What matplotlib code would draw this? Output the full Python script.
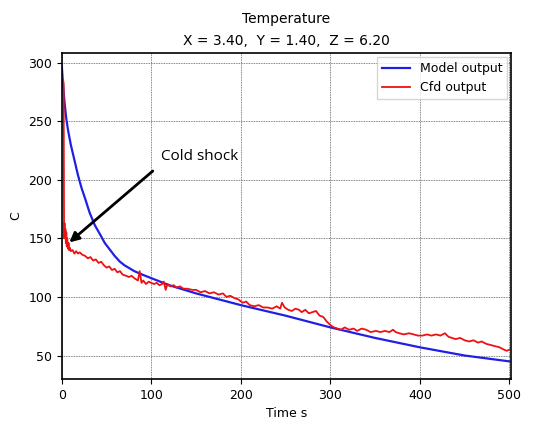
import matplotlib
matplotlib.use("Agg")
import matplotlib.pyplot as plt

# Model output (smooth decay)
model_t = [0, 1, 2, 3, 5, 7, 10, 14, 18, 22, 26, 31, 37, 43, 48, 54, 59, 65, 70, 81,
           90, 100, 120, 150, 175, 200, 225, 250, 275, 300, 325, 350, 375, 400,
           425, 450, 475, 500]
model_temp = [297, 285, 275, 266, 252, 242, 230, 217, 204, 193, 184, 172, 161, 153,
              146, 140, 135, 130, 127, 122, 119, 116, 110, 103, 98, 93, 88.5, 84,
              79, 74, 69.5, 65, 61, 57, 53.5, 50, 47.5, 45]

# Cfd output (noisy)
cfd_t = [1.5, 2, 2.5, 3, 3.5, 4, 4.5, 5, 5.5, 6, 6.5, 7, 7.5, 8, 9, 10, 12, 14, 16, 18,
         20, 23, 26, 29, 32, 35, 38, 41, 44, 47, 50, 53, 56, 59, 62, 65, 68, 72,
         75, 78, 81, 83, 85, 87, 89, 91, 94, 97, 100, 103, 106, 109, 112, 114, 116,
         118, 121, 125, 128, 132, 136, 140, 146, 150, 155, 160, 165, 170, 175, 180,
         184, 188, 193, 197, 202, 206, 210, 215, 220, 225, 230, 235, 240, 244, 246,
         249, 253, 257, 261, 265, 268, 272, 276, 280, 284, 288, 292, 296, 300, 304,
         308, 312, 316, 321, 326, 330, 335, 340, 345, 351, 356, 361, 366, 370, 373,
         377, 382, 388, 393, 398, 403, 408, 413, 418, 423, 428, 432, 436, 440, 445,
         450, 455, 460, 465, 469, 474, 479, 484, 489, 494, 497, 500]
cfd_temp = [285, 282, 150, 163, 152, 158, 146, 155, 143, 150, 145, 141, 146, 140,
            142, 139, 140, 137, 139, 137, 138, 136, 135, 133, 134, 131, 132, 129,
            130, 127, 125, 126, 123, 124, 121, 122, 119, 118, 117, 118, 116, 115,
            114, 122, 112, 114, 111, 113, 112, 111, 112, 110, 111, 113, 106, 111,
            109, 110, 108, 109, 107, 107, 106, 106, 104, 105, 103, 104, 102, 103,
            100, 101, 99, 98, 95, 96, 93, 92, 93, 91, 91, 90, 92, 90, 95, 91, 89,
            88, 90, 89, 87, 89, 86, 87, 88, 84, 83, 79, 76, 74, 73, 72, 74, 72,
            73, 71, 73, 72, 70, 71, 70, 71, 70, 72, 70, 69, 68, 69, 68, 67, 67,
            68, 67, 68, 67, 69, 66, 65, 64, 65, 63, 62, 63, 61, 62, 60, 59, 58,
            57, 55, 54, 55]

fig = plt.figure(figsize=(5.33, 4.22), dpi=100)
ax = fig.add_axes([0.116, 0.102, 0.843, 0.772])

ax.plot(model_t, model_temp, color="#1f1fe6", lw=1.6, label="Model output")
ax.plot(cfd_t, cfd_temp, color="#ee1111", lw=1.3, label="Cfd output")

ax.set_xlim(0, 502)
ax.set_ylim(30, 308)
ax.set_xticks([0, 100, 200, 300, 400, 500])
ax.set_yticks([50, 100, 150, 200, 250, 300])
ax.tick_params(labelsize=9)
ax.grid(True, linestyle=(0, (1, 1)), color="0.35", lw=0.6)
for s in ax.spines.values():
    s.set_linewidth(1.2)

ax.set_xlabel("Time s", fontsize=9)
ax.set_ylabel("C", fontsize=9)
ax.set_title("Temperature\nX = 3.40,  Y = 1.40,  Z = 6.20", fontsize=10,
             linespacing=1.7, pad=6)

ax.annotate("", xy=(6, 145), xytext=(104, 209),
            arrowprops=dict(arrowstyle="-|>", color="black", lw=2,
                            mutation_scale=14))
ax.text(111, 220, "Cold shock", fontsize=11, family="Open Sans", va="center")

ax.legend(loc="upper right", fontsize=9, fancybox=False, borderaxespad=0.3,
          handlelength=2.2)

plt.savefig("out.png", dpi=100)
